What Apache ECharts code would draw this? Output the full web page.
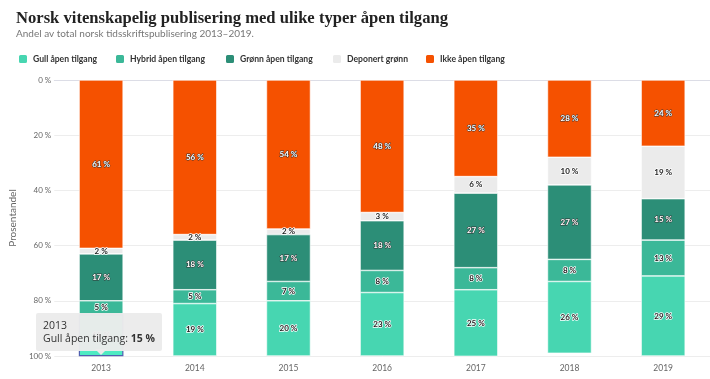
<!DOCTYPE html>
<html>
<head>
<meta charset="utf-8">
<script src="https://cdn.jsdelivr.net/npm/echarts@6/dist/echarts.min.js"></script>
<style>
html,body{margin:0;padding:0;background:#fff;}
#chart{width:710px;height:379px;}
</style>
</head>
<body>
<div id="chart"></div>
<script>
var years = ['2013','2014','2015','2016','2017','2018','2019'];
var gull = [15,19,20,23,25,26,29];
var hybrid = [5,5,7,8,8,8,13];
var gronn = [17,18,17,18,27,27,15];
var deponert = [2,2,2,3,6,10,19];
var ikke = [61,56,54,48,35,28,24];
var yTicks = [0,20,40,60,80,100];

var names = ['Gull åpen tilgang','Hybrid åpen tilgang','Grønn åpen tilgang','Deponert grønn','Ikke åpen tilgang'];
var colors = ['#47d6b1','#3bb898','#2c8e77','#ebebeb','#f55100'];
var legendLeft = [12,109,219,326,419];

function lbl(dark){
  return {
    show:true, position:'inside', formatter:'{c} %',
    fontFamily:'Lato', fontWeight:'bold', fontSize:8,
    color: dark ? '#fff' : '#222',
    textBorderColor: dark ? '#333' : '#fff',
    textBorderWidth: dark ? 1 : 1.5
  };
}
function mk(name, data, color, dark){
  return {
    name:name, type:'bar', stack:'a', data:data, barWidth:'47%',
    itemStyle:{color:color, borderColor:'#fff', borderWidth:0.6},
    label:lbl(dark),
    emphasis:{itemStyle:{borderColor:'#5060b0', borderWidth:1.2}},
    animation:false
  };
}
var legends = names.map(function(n,i){
  return {
    data:[n], left:legendLeft[i], top:48, itemWidth:10, itemHeight:10, icon:'roundRect',
    selectedMode:false,
    textStyle:{fontFamily:'Lato', fontWeight:'bold', fontSize:8.6, color:'#333'}
  };
});

var chart = echarts.init(document.getElementById('chart'));
chart.setOption({
  animation:false,
  title:[
    {text:'Norsk vitenskapelig publisering med ulike typer åpen tilgang', left:11, top:5,
     textStyle:{fontFamily:'Liberation Serif', fontWeight:'bold', fontSize:16.6, color:'#222'}},
    {text:'Andel av total norsk tidsskriftspublisering 2013–2019.', left:11, top:24,
     textStyle:{fontFamily:'Lato', fontWeight:'normal', fontSize:10, color:'#777'}}
  ],
  legend:legends,
  color:colors,
  tooltip:{
    trigger:'item', alwaysShowContent:true, showDelay:0, transitionDuration:0,
    backgroundColor:'rgba(235,235,235,0.97)', borderWidth:0, padding:[6,7],
    extraCssText:'box-shadow:none;border-radius:2px;',
    textStyle:{fontFamily:'Open Sans', fontSize:10.5, color:'#333'},
    position:function(){ return [36,313]; },
    formatter:function(p){
      return '<div style="line-height:13px">'+p.name+'<br>'+p.seriesName+': <b>'+p.value+' %</b></div>';
    }
  },
  graphic:[{type:'polygon', z:100, shape:{points:[[95,349],[107,349],[101,355]]}, style:{fill:'#ebebeb'}}],
  grid:{left:47, right:0, top:80, bottom:23},
  xAxis:{
    type:'category', data:years,
    axisLine:{lineStyle:{color:'#dcdde6', width:1}},
    axisTick:{show:false},
    axisLabel:{fontFamily:'Lato', fontSize:8.5, color:'#666', margin:8}
  },
  yAxis:{
    type:'value', min:0, max:100, interval:20, inverse:true,
    name:'Prosentandel', nameLocation:'middle', nameGap:30,
    nameTextStyle:{fontFamily:'Lato', fontSize:10, color:'#666'},
    axisLabel:{formatter:'{value} %', fontFamily:'Lato', fontSize:8, color:'#666', margin:3},
    splitLine:{lineStyle:{color:'#ededed'}},
    axisLine:{show:false}, axisTick:{show:false}
  },
  series:[
    mk(names[4], ikke, colors[4], true),
    mk(names[3], deponert, colors[3], false),
    mk(names[2], gronn, colors[2], true),
    mk(names[1], hybrid, colors[1], false),
    mk(names[0], gull, colors[0], false)
  ]
});
chart.dispatchAction({type:'highlight', seriesIndex:4, dataIndex:0});
chart.dispatchAction({type:'showTip', seriesIndex:4, dataIndex:0});
</script>
</body>
</html>
